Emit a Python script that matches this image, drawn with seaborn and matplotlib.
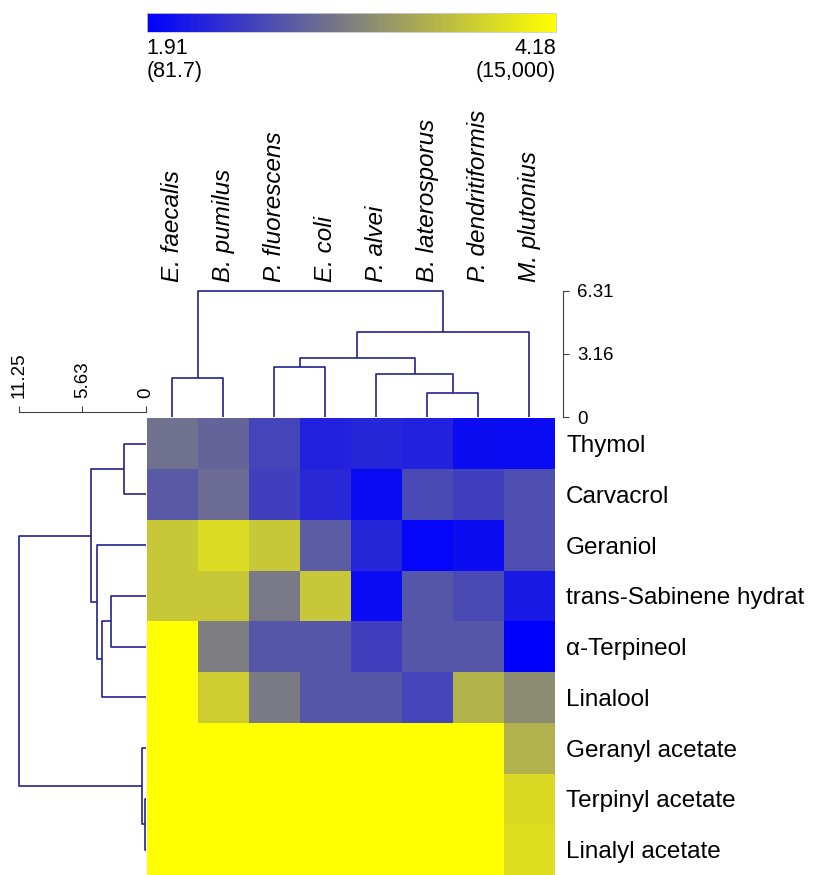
import numpy as np
import pandas as pd
import seaborn as sns
import matplotlib.pyplot as plt
from matplotlib.colors import LinearSegmentedColormap

# ==============================================================================
# DATOS (log10 MIC, orden de las hojas de los dendrogramas)
# ==============================================================================
bacteria = ["E. faecalis", "B. pumilus", "P. fluorescens", "E. coli",
            "P. alvei", "B. laterosporus", "P. dendritiformis", "M. plutonius"]
compounds = ["Thymol", "Carvacrol", "Geraniol", "trans-Sabinene hydrat",
             "α-Terpineol", "Linalool", "Geranyl acetate", "Terpinyl acetate",
             "Linalyl acetate"]

thymol = [2.91, 2.80, 2.52, 2.21, 2.25, 2.21, 2.02, 2.00]
carvacrol = [2.70, 2.86, 2.48, 2.27, 2.00, 2.57, 2.48, 2.61]
geraniol = [3.68, 3.86, 3.68, 2.73, 2.25, 1.96, 2.02, 2.61]
sabinene = [3.68, 3.68, 2.98, 3.68, 2.00, 2.68, 2.57, 2.14]
terpineol = [4.18, 3.02, 2.68, 2.68, 2.48, 2.68, 2.68, 1.91]
linalool = [4.18, 3.73, 3.00, 2.68, 2.68, 2.52, 3.50, 3.16]
geranyl_ac = [4.18, 4.18, 4.18, 4.18, 4.18, 4.18, 4.18, 3.48]
terpinyl_ac = [4.18, 4.18, 4.18, 4.18, 4.18, 4.18, 4.18, 3.85]
linalyl_ac = [4.18, 4.18, 4.18, 4.18, 4.18, 4.18, 4.18, 3.88]

vmin, vmax = 1.91, 4.18
cbar_low = ["1.91", "(81.7)"]
cbar_high = ["4.18", "(15,000)"]

# uniones jerárquicas: (hijo_a, hijo_b, altura); hijos >= n son clusters previos
col_merges = [(0, 1, 1.97), (2, 3, 2.49), (5, 6, 1.20), (4, 10, 2.16),
              (9, 11, 2.94), (12, 7, 4.27), (8, 13, 6.31)]
row_merges = [(0, 1, 1.93), (3, 4, 3.09), (10, 5, 3.86), (2, 11, 4.33),
              (9, 12, 4.89), (7, 8, 0.09), (6, 14, 0.30), (13, 15, 11.25)]
col_ticks = [0, 3.16, 6.31]
row_ticks = [0, 5.63, 11.25]

# ==============================================================================
# ESTILO
# ==============================================================================
sns.set_style("white")
plt.rcParams['font.family'] = ['Liberation Sans', 'DejaVu Sans']
plt.rcParams['text.color'] = 'black'
plt.rcParams['xtick.labelcolor'] = 'black'
plt.rcParams['ytick.labelcolor'] = 'black'
DENDRO = "#23238f"
SPINE = "#404040"

df = pd.DataFrame([thymol, carvacrol, geraniol, sabinene, terpineol, linalool,
                   geranyl_ac, terpinyl_ac, linalyl_ac],
                  index=compounds, columns=bacteria)
cmap = LinearSegmentedColormap.from_list("byg", ["#0000ff", "#808080", "#ffff00"])

W, H = 815, 875
def frac(x0, y0, x1, y1):
    return [x0 / W, 1 - y1 / H, (x1 - x0) / W, (y1 - y0) / H]

fig = plt.figure(figsize=(W / 100, H / 100), dpi=100)
ax_hm = fig.add_axes(frac(146.7, 418.3, 555, 875))
ax_top = fig.add_axes(frac(146.7, 290.7, 555, 417.3))
ax_left = fig.add_axes(frac(19.3, 418.3, 145.7, 875))
ax_cb = fig.add_axes(frac(146.7, 12.5, 555.5, 31.5))

# 1. HEATMAP
sns.heatmap(df, ax=ax_hm, cmap=cmap, vmin=vmin, vmax=vmax, linewidths=0,
            cbar_ax=ax_cb, cbar_kws={"orientation": "horizontal"})
ax_hm.set_xticks([])
ax_hm.set_xlabel("")
ax_hm.yaxis.tick_right()
ax_hm.set_yticklabels(compounds, rotation=0, fontsize=17.5, color='black')
ax_hm.tick_params(axis='y', length=0, pad=8)

# 2. BARRA DE COLOR
cb = ax_hm.collections[0].colorbar
cb.outline.set_edgecolor("#cccccc")
cb.outline.set_linewidth(0.6)
cb.set_ticks([])
for i, (lo, hi) in enumerate(zip(cbar_low, cbar_high)):
    y = 49 + 23 * i
    fig.text(146.7 / W, 1 - y / H, lo, ha='left', va='center', fontsize=15.5)
    fig.text(556 / W, 1 - y / H, hi, ha='right', va='center', fontsize=15.5)


def draw_dendro(ax, merges, n, vertical):
    pos = {i: i + 0.5 for i in range(n)}
    hgt = {i: 0.0 for i in range(n)}
    for k, (a, b, h) in enumerate(merges):
        p = [pos[a], pos[a], pos[b], pos[b]]
        q = [hgt[a], h, h, hgt[b]]
        if vertical:
            ax.plot(p, q, color=DENDRO, lw=1.2, clip_on=False, solid_capstyle='butt')
        else:
            ax.plot(q, p, color=DENDRO, lw=1.2, clip_on=False, solid_capstyle='butt')
        pos[n + k] = (pos[a] + pos[b]) / 2
        hgt[n + k] = h


# 3. DENDROGRAMA DE COLUMNAS
draw_dendro(ax_top, col_merges, len(bacteria), vertical=True)
ax_top.set_xlim(0, len(bacteria))
ax_top.set_ylim(0, col_ticks[-1])
for side in ["top", "left", "bottom"]:
    ax_top.spines[side].set_visible(False)
ax_top.spines["right"].set_position(("outward", 6))
ax_top.spines["right"].set_bounds(col_ticks[0], col_ticks[-1])
ax_top.spines["right"].set_color(SPINE)
ax_top.yaxis.tick_right()
ax_top.set_yticks(col_ticks)
ax_top.set_yticklabels([f"{t:g}" for t in col_ticks], fontsize=13.5)
ax_top.tick_params(axis='y', direction='out', length=4, color=SPINE, pad=6)
ax_top.xaxis.tick_top()
ax_top.set_xticks(np.arange(len(bacteria)) + 0.5)
ax_top.set_xticklabels(bacteria, rotation=90, fontsize=17.5, style='italic')
ax_top.tick_params(axis='x', length=0, pad=6)

# 4. DENDROGRAMA DE FILAS
draw_dendro(ax_left, row_merges, len(compounds), vertical=False)
ax_left.set_xlim(row_ticks[-1], 0)
ax_left.set_ylim(len(compounds), 0)
for side in ["left", "right", "bottom"]:
    ax_left.spines[side].set_visible(False)
ax_left.spines["top"].set_position(("outward", 4.3))
ax_left.spines["top"].set_bounds(row_ticks[0], row_ticks[-1])
ax_left.spines["top"].set_color(SPINE)
ax_left.xaxis.tick_top()
ax_left.set_xticks(row_ticks)
ax_left.set_xticklabels([f"{t:g}" for t in row_ticks], rotation=90, fontsize=13.5)
ax_left.tick_params(axis='x', direction='out', length=4, color=SPINE, pad=6)
ax_left.set_yticks([])

plt.savefig("out.png", dpi=100)
plt.close()
